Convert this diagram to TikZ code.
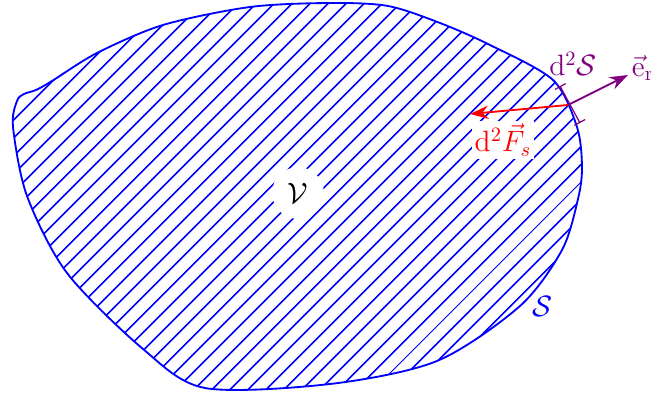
\documentclass[tikz,border=0pt]{standalone}
\usetikzlibrary{patterns.meta,arrows.meta}
\definecolor{lila}{rgb}{0.5,0,0.5}
\tikzset{vecarrow/.style={-{Stealth[length=9pt,width=6.5pt]}}}
\begin{document}
\begin{tikzpicture}[x=0.0172cm, y=-0.0172cm, line width=0.9pt, font=\Large]
        \useasboundingbox (0,0) rectangle (651,396);

        % Volumen mit Rand
        \draw[blue, pattern={Lines[angle=45,distance=6.5pt,line width=0.9pt]}, pattern color=blue]
        plot[smooth cycle, tension=0.5] coordinates {
          (24,94) (36,90) (52,81) (97,53) (163,25) (250,7) (330,3) (388,6) (440,23) (490,45)
          (553,80) (577,127) (582,167) (578,199) (562,250) (520,306) (437,361)
          (330,384) (205,388) (143,349) (67,273) (27,196) (13,127) (17,101)};

        % Punkte
        \coordinate (P) at (568,105);
        \coordinate (Pa) at (560,86);
        \coordinate (Pb) at (580,123);
        \coordinate (Q) at (470,114);
        \coordinate (R) at (628,75);

        % Flaechenelement und Vektoren
        \draw[lila, line width=0.6pt, {Bar[width=6pt]}-{Bar[width=6pt]}] (Pa) -- (Pb);
        \draw[lila, vecarrow] (P) -- (R);
        \draw[red, vecarrow] (P) -- (Q);

        % Beschriftungen
        \node[fill=white, circle, inner sep=4pt] (vol) at (298,193) {$\mathcal{V}$};
        \node[blue] (rand) at (543,306) {$\mathcal{S}$};
        \node[lila] (dS) at (573,64) {$\mathrm{d}^2\mathcal{S}$};
        \node[lila, anchor=west, inner sep=1pt] (er) at (629,68) {$\vec{\mathrm{e}}_\mathrm{r}$};
        \node[red, fill=white, inner sep=1.5pt] (dF) at (503,140) {$\mathrm{d}^2\vec{F}_s$};
\end{tikzpicture}
\end{document}
